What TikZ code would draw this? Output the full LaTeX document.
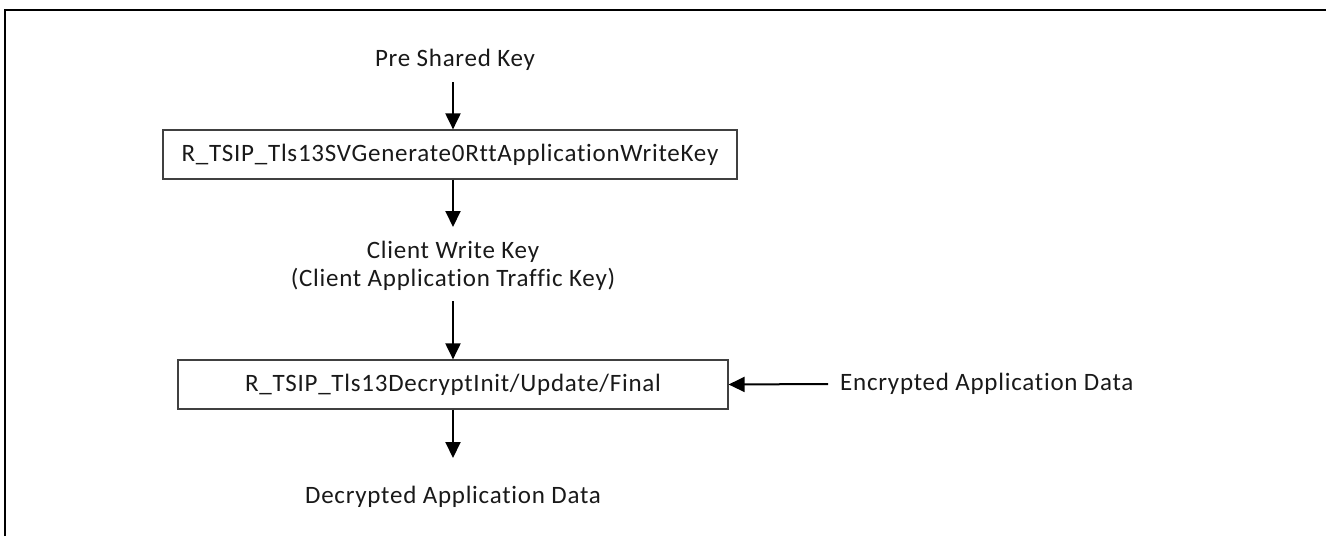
\documentclass[tikz,border=0pt]{standalone}
\usepackage{fontspec}
\setmainfont{Carlito}[Ligatures={NoCommon}, LetterSpace=3]
\usetikzlibrary{arrows.meta}
\begin{document}
\begin{tikzpicture}[x=1pt,y=-1pt,
  lbl/.style={font=\fontsize{25}{28}\selectfont, inner sep=0pt, align=center, text=black!90},
  fbox/.style={draw=black!75, line width=1.2pt, minimum height=49pt, inner sep=0pt, font=\fontsize{25}{28}\selectfont, text=black!90},
  arr/.style={line width=2pt, -{Triangle[width=15pt,length=16pt]}}]
\useasboundingbox (0,0) rectangle (1326,536);
\draw[line width=2.2pt] (5,536) -- (5,10) -- (1326,10);
\node[lbl] (psk) at (455,60) {Pre Shared Key};
\node[fbox, minimum width=574pt] (b1) at (450,154.5) {R\_TSIP\_Tls13SVGenerate0RttApplicationWriteKey};
\node[lbl] (cwk) at (453,266) {Client Write Key\\(Client Application Traffic Key)};
\node[fbox, minimum width=550pt] (b2) at (453,384.5) {R\_TSIP\_Tls13DecryptInit/Update/Final};
\node[lbl] (dad) at (453,497) {Decrypted Application Data};
\node[lbl, anchor=west] (ead) at (840,384) {Encrypted Application Data};
\coordinate (s1) at (453,82);
\coordinate (t2) at (453,227);
\coordinate (s3) at (453,301);
\coordinate (t4) at (453,458);
\coordinate (s5) at (828,384);
\draw[arr] (s1) -- (s1 |- b1.north);
\draw[arr] (t2 |- b1.south) -- (t2);
\draw[arr] (s3) -- (s3 |- b2.north);
\draw[arr] (t4 |- b2.south) -- (t4);
\draw[arr] (s5) -- (b2.east);
\end{tikzpicture}
\end{document}
